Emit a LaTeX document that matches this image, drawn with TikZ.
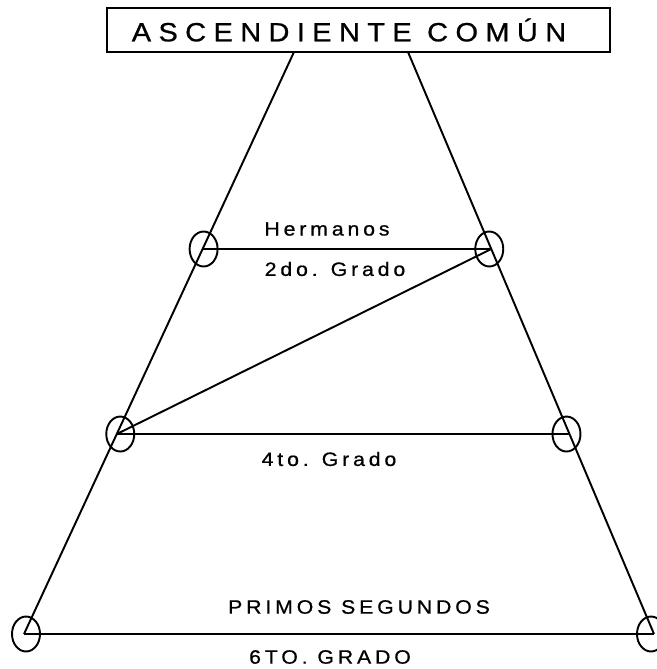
\documentclass[tikz,border=0pt]{standalone}
\usepackage{fontspec}
\newfontfamily\gradofont[LetterSpace=20,FakeStretch=1.1,FakeBold=0.8]{Liberation Sans}
\newfontfamily\comunfont[LetterSpace=28,FakeStretch=1.1,FakeBold=0.8]{Liberation Sans}
\usetikzlibrary{shapes.geometric,calc}
\tikzset{ring/.style={ellipse, draw, line width=1.1pt,
         minimum width=.56cm, minimum height=.7cm,
         inner sep=0pt, outer sep=0pt},
         grado/.style={font=\gradofont\fontsize{11}{13}\selectfont, inner sep=0pt}}

\begin{document}
\begin{tikzpicture}[x=.02cm, y=-.02cm, line width=1.1pt]
      \useasboundingbox (0,0) rectangle (656,669);
      \node[draw, minimum width=10.06cm, minimum height=.88cm, inner sep=0pt,
            font=\comunfont\fontsize{15}{17}\selectfont] (comun) at (358.5,30) {ASCENDIENTE COMÚN\kern.38cm};

      \coordinate (topL) at (294,52);
      \coordinate (topR) at (408,52);
      \coordinate (botL) at (24,634);
      \coordinate (botR) at (654,634);
      \coordinate (dosL) at ($(topL)!.3385!(botL)$);
      \coordinate (dosR) at ($(topR)!.3385!(botR)$);
      \coordinate (cuaL) at ($(topL)!.6564!(botL)$);
      \coordinate (cuaR) at ($(topR)!.6564!(botR)$);

      \draw (topL) -- (botL);
      \draw (topR) -- (botR);
      \draw (dosL) -- (dosR);
      \draw (cuaL) -- (cuaR);
      \draw (botL) -- (botR);
      \draw (dosR) -- (cuaL);

      \node[ring, xshift=.02cm] at (dosL) {};
      \node[ring, xshift=-.04cm] at (dosR) {};
      \node[ring, xshift=.07cm] at (cuaL) {};
      \node[ring, xshift=-.06cm] at (cuaR) {};
      \node[ring, xshift=.04cm] at (botL) {};
      \node[ring, xshift=-.06cm] at (botR) {};

      \node[grado] (hermanos) at (327,229) {Hermanos};
      \node[grado] (dos) at (335,269) {2do. Grado};
      \node[grado] (cuatro) at (329,459) {4to. Grado};
      \node[grado] (primos) at (359,607) {PRIMOS SEGUNDOS};
      \node[grado] (seis) at (330,657) {6TO. GRADO};
    \end{tikzpicture}
\end{document}
